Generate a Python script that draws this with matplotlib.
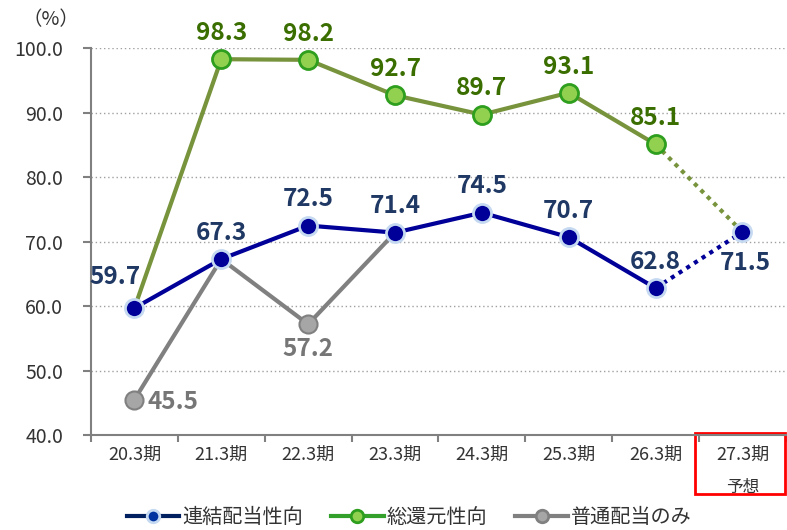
import numpy as np
import matplotlib
matplotlib.use("Agg")
import matplotlib.pyplot as plt
from matplotlib.lines import Line2D
from matplotlib.patches import Rectangle
import matplotlib.transforms as mtransforms

plt.rcParams['font.family'] = ['Noto Sans CJK JP', 'DejaVu Sans']

# データ
periods = ['20.3期', '21.3期', '22.3期', '23.3期', '24.3期', '25.3期', '26.3期', '27.3期']
renketsu = [59.7, 67.3, 72.5, 71.4, 74.5, 70.7, 62.8, 71.5]
sokangen = [59.7, 98.3, 98.2, 92.7, 89.7, 93.1, 85.1, 71.5]
futsu = [45.5, 67.3, 57.2, 71.4]

c_blue = '#000099'
c_blue_txt = '#1F3864'
c_green = '#77933C'
c_green_txt = '#3A6E00'
c_gray = '#808080'
c_gray_txt = '#767676'

x = np.arange(len(periods))

fig = plt.figure(figsize=(7.87, 5.30), dpi=100)
ax = fig.add_axes([0.1156, 0.179, 0.883, 0.730])

lw = 3
ms = 13

# 普通配当のみ
ax.plot(x[:len(futsu)], futsu, color=c_gray, lw=lw, zorder=2)
ax.plot(x[[0, 2]], [futsu[0], futsu[2]], 'o', ms=ms, mfc='#A6A6A6', mec=c_gray, mew=1.5, zorder=3)

# 総還元性向
ax.plot(x[:7], sokangen[:7], color=c_green, lw=lw, zorder=4)
ax.plot(x[6:], sokangen[6:], color=c_green, lw=lw, ls=(0, (1, 1.2)), zorder=4)
ax.plot(x[1:7], sokangen[1:7], 'o', ms=ms, mfc='#92D050', mec='#2E9E1E', mew=2, zorder=5)

# 連結配当性向
ax.plot(x[:7], renketsu[:7], color=c_blue, lw=lw, zorder=6)
ax.plot(x[6:], renketsu[6:], color=c_blue, lw=lw, ls=(0, (1, 1.2)), zorder=6)
ax.plot(x, renketsu, 'o', ms=ms, mfc=c_blue, mec='#C5D9F1', mew=2, zorder=7)

# データラベル
fs_lab = 17.5
lab_kw = dict(fontsize=fs_lab, fontweight='bold', ha='center')
for i, v in enumerate(renketsu):
    if i == 0:
        ax.text(i - 0.22, v + 3.0, f'{v:.1f}', color=c_blue_txt, va='bottom', **lab_kw)
    elif i == 7:
        ax.text(i + 0.03, v - 3.0, f'{v:.1f}', color=c_blue_txt, va='top', **lab_kw)
    else:
        ax.text(i, v + 2.2, f'{v:.1f}', color=c_blue_txt, va='bottom', **lab_kw)
for i in range(1, 7):
    ax.text(i, sokangen[i] + 2.2, f'{sokangen[i]:.1f}', color=c_green_txt, va='bottom', **lab_kw)
ax.text(0.15, futsu[0] - 0.3, f'{futsu[0]:.1f}', color=c_gray_txt, va='center', ha='left',
        fontsize=fs_lab, fontweight='bold')
ax.text(2, futsu[2] - 2.0, f'{futsu[2]:.1f}', color=c_gray_txt, va='top', **lab_kw)

# 軸
ax.set_xlim(-0.5, 7.5)
ax.set_ylim(40, 100)
ax.set_yticks(np.arange(40, 101, 10))
ax.set_yticklabels([f'{t:.1f}' for t in np.arange(40, 101, 10)], fontsize=14, color='#333333')
ax.set_xticks(x)
ax.set_xticklabels(periods, fontsize=13, color='#333333')
ax.set_xticks(np.arange(-0.5, 7.6, 1), minor=True)
ax.tick_params(axis='x', which='major', length=0, pad=8)
ax.tick_params(axis='x', which='minor', length=5, color=c_gray, width=1.5)
ax.tick_params(axis='y', length=6, color=c_gray, width=1.5, pad=14)
for s in ('top', 'right'):
    ax.spines[s].set_visible(False)
for s in ('left', 'bottom'):
    ax.spines[s].set_color(c_gray)
    ax.spines[s].set_linewidth(1.5)
ax.yaxis.grid(True, ls=(0, (1, 2)), color='#A0A0A0', lw=1)
ax.set_axisbelow(True)

fig.text(0.028, 0.962, '（%）', fontsize=14, color='#333333', va='center', ha='left')

# 予想
trans = mtransforms.blended_transform_factory(ax.transData, ax.transAxes)
ax.text(7, -0.135, '予想', transform=trans, fontsize=12, color='#333333', ha='center', va='center')
ax.add_patch(Rectangle((6.45, -0.152), 1.04, 0.157, transform=trans, fill=False,
                       ec='#FF0000', lw=2, clip_on=False))

# 凡例
handles = [
    Line2D([], [], color='#002060', lw=3, marker='o', ms=9, mfc='#0033A0', mec='#C5D9F1', mew=2),
    Line2D([], [], color='#33A02C', lw=3, marker='o', ms=9, mfc='#92D050', mec='#2E9E1E', mew=2),
    Line2D([], [], color=c_gray, lw=3, marker='o', ms=9, mfc='#A6A6A6', mec=c_gray, mew=2),
]
fig.legend(handles, ['連結配当性向', '総還元性向', '普通配当のみ'], loc='lower center',
           bbox_to_anchor=(0.52, -0.03), ncol=3, frameon=False, fontsize=14.5,
           handlelength=2.6, handletextpad=0.15, columnspacing=1.4, labelcolor='#333333')

fig.savefig('out.png', dpi=100)
